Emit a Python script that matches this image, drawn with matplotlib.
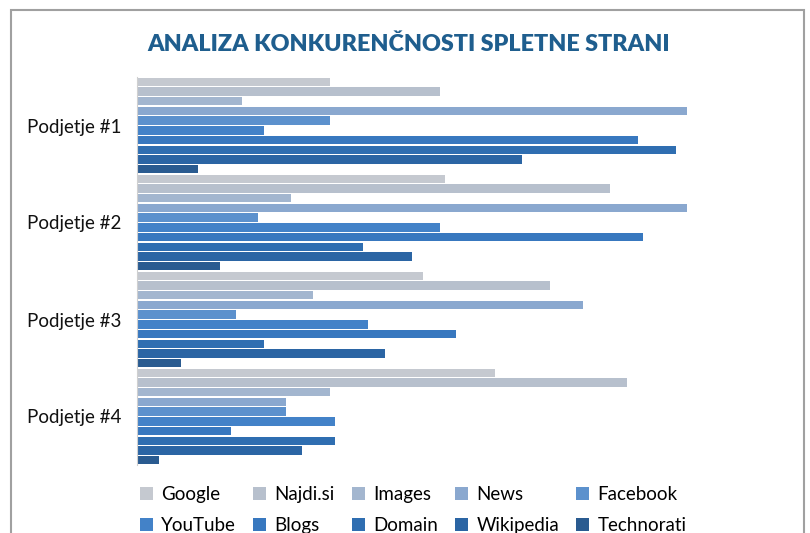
import matplotlib
matplotlib.use("Agg")
import matplotlib.pyplot as plt
from matplotlib.patches import Patch, Rectangle

plt.rcParams['font.family'] = ['Lato', 'DejaVu Sans']

companies = ["Podjetje #1", "Podjetje #2", "Podjetje #3", "Podjetje #4"]
series = ["Google", "Najdi.si", "Images", "News", "Facebook",
          "YouTube", "Blogs", "Domain", "Wikipedia", "Technorati"]
values = {
    "Google":     [35, 56, 52, 65],
    "Najdi.si":   [55, 86, 75, 89],
    "Images":     [19, 28, 32, 35],
    "News":       [100, 100, 81, 27],
    "Facebook":   [35, 22, 18, 27],
    "YouTube":    [23, 55, 42, 36],
    "Blogs":      [91, 92, 58, 17],
    "Domain":     [98, 41, 23, 36],
    "Wikipedia":  [70, 50, 45, 30],
    "Technorati": [11, 15, 8, 4],
}
colors = ["#c5c9d0", "#b7c0cd", "#a3b6cf", "#8aa8cf", "#5c91cd",
          "#4382c8", "#3878bf", "#2f6eb1", "#2b65a4", "#2a5b90"]

fig = plt.figure(figsize=(8.1, 5.33), dpi=100)
ax = fig.add_axes([137/810, 1-465/533, 605/810, (465-77)/533])

n = len(series)
step = 0.1
for j, s in enumerate(series):
    ys = [i + (j - (n - 1) / 2) * step for i in range(len(companies))]
    ax.barh(ys, values[s], height=0.086, color=colors[j], label=s)

ax.set_xlim(0, 110)
ax.set_ylim(len(companies) - 0.5, -0.5)
ax.set_yticks(range(len(companies)))
ax.set_yticklabels(companies, fontsize=13.5, color="#111111")
ax.tick_params(axis='y', length=0, pad=11)
ax.set_xticks([])
for sp in ["top", "right", "bottom"]:
    ax.spines[sp].set_visible(False)
ax.spines["left"].set_color("#d0d0d0")

fig.text(0.505, 1-45/533, "ANALIZA KONKURENČNOSTI SPLETNE STRANI",
         ha="center", va="center", fontsize=16.8, fontweight="heavy",
         color="#1f5e8e")

order = [0, 5, 1, 6, 2, 7, 3, 8, 4, 9]
handles = [Patch(facecolor=colors[k], label=series[k]) for k in order]
fig.legend(handles=handles, ncol=5, loc="center", bbox_to_anchor=(0.51, 1-510/533),
           frameon=False, fontsize=13.5, handlelength=0.7, handleheight=0.7,
           handletextpad=0.45, columnspacing=0.9, labelspacing=0.75)

fig.patches.append(Rectangle((11/810, -0.1), (804-11)/810, 1 - 10/533 + 0.1,
                             transform=fig.transFigure, fill=False,
                             edgecolor="#a0a0a0", lw=1.5))

fig.savefig("out.png", dpi=100)
